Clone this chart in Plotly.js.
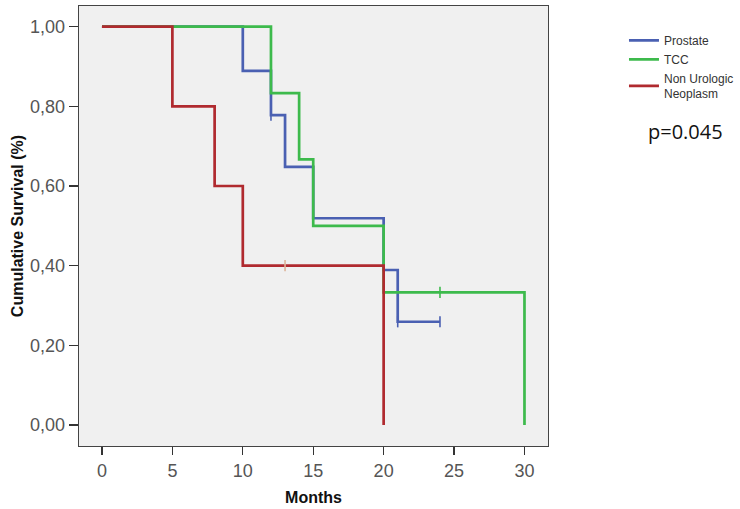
<!DOCTYPE html>
<html>
<head>
<meta charset="utf-8">
<script src="https://cdn.plot.ly/plotly-3.0.1.min.js"></script>
<style>html,body{margin:0;padding:0;background:#fff;}#chart{width:740px;height:509px;}</style>
</head>
<body>
<div id="chart"></div>
<script>
// Kaplan-Meier step data (months, cumulative survival)
const prostateTime = [0, 10, 12, 13, 15, 20, 21, 24];
const prostateSurv = [1.0, 0.889, 0.778, 0.648, 0.519, 0.389, 0.259, 0.259];
const prostateCensTime = [12, 21, 24];
const prostateCensSurv = [0.778, 0.259, 0.259];

const tccTime = [0, 12, 14, 15, 20, 30];
const tccSurv = [1.0, 0.833, 0.667, 0.5, 0.333, 0.0];
const tccCensTime = [24];
const tccCensSurv = [0.333];

const nonUroTime = [0, 5, 8, 10, 20];
const nonUroSurv = [1.0, 0.8, 0.6, 0.4, 0.0];
const nonUroCensTime = [13];
const nonUroCensSurv = [0.4];

const xTicks = [0, 5, 10, 15, 20, 25, 30];
const yTicks = [0, 0.2, 0.4, 0.6, 0.8, 1.0];

const cBlue = '#4a60b2', cGreen = '#3dba4c', cRed = '#b02a2f', cRedCens = '#ddb49a';

function stepTrace(x, y, name, color) {
  return {x: x, y: y, name: name, type: 'scatter', mode: 'lines',
    line: {shape: 'hv', color: color, width: 2.7}, hoverinfo: 'skip'};
}
function censTrace(x, y, color) {
  return {x: x, y: y, type: 'scatter', mode: 'markers', showlegend: false,
    marker: {symbol: 'line-ns-open', size: 8, color: color, line: {color: color, width: 1.6}}, hoverinfo: 'skip'};
}

const data = [
  stepTrace(prostateTime, prostateSurv, 'Prostate', cBlue),
  stepTrace(tccTime, tccSurv, 'TCC', cGreen),
  stepTrace(nonUroTime, nonUroSurv, 'Non Urologic<br>Neoplasm', cRed),
  censTrace(prostateCensTime, prostateCensSurv, cBlue),
  censTrace(tccCensTime, tccCensSurv, cGreen),
  censTrace(nonUroCensTime, nonUroCensSurv, cRedCens)
];

const layout = {
  width: 740, height: 509,
  margin: {l: 79, r: 192, t: 6, b: 63, autoexpand: false},
  paper_bgcolor: '#ffffff',
  plot_bgcolor: '#f0f0f0',
  separators: ',.',
  font: {family: 'Liberation Sans, Arial, sans-serif', color: '#555555'},
  showlegend: true,
  legend: {x: 1.162, y: 0.955, xanchor: 'left', yanchor: 'top',
    font: {size: 12, color: '#333333'}, itemwidth: 30, tracegroupgap: 0,
    bgcolor: 'rgba(0,0,0,0)'},
  xaxis: {
    range: [-1.63, 31.67], tickvals: xTicks, ticktext: xTicks.map(String),
    ticks: 'outside', ticklen: 8, tickwidth: 1.3, tickcolor: '#333333',
    tickfont: {size: 18, color: '#555555'},
    showgrid: false, zeroline: false,
    showline: true, linecolor: '#444444', linewidth: 1.3, mirror: true,
    title: {text: '<b>Months</b>', font: {size: 16, color: '#111111'}, standoff: 12}
  },
  yaxis: {
    range: [-0.053, 1.052], tickvals: yTicks, tickformat: '.2f',
    ticks: 'outside', ticklen: 9, tickwidth: 1.3, tickcolor: '#333333',
    tickfont: {size: 18, color: '#555555'},
    showgrid: false, zeroline: false,
    showline: true, linecolor: '#444444', linewidth: 1.3, mirror: true,
    title: {text: '<b>Cumulative Survival (%)</b>', font: {size: 16, color: '#111111'}, standoff: 2}
  },
  annotations: [{
    text: 'p=0.045', xref: 'paper', yref: 'paper', x: 1.21, y: 0.715,
    xanchor: 'left', yanchor: 'middle', showarrow: false,
    font: {size: 20, color: '#111111', family: 'Open Sans, Liberation Sans, sans-serif'}
  }]
};

Plotly.newPlot('chart', data, layout, {displayModeBar: false, staticPlot: true});
</script>
</body>
</html>
